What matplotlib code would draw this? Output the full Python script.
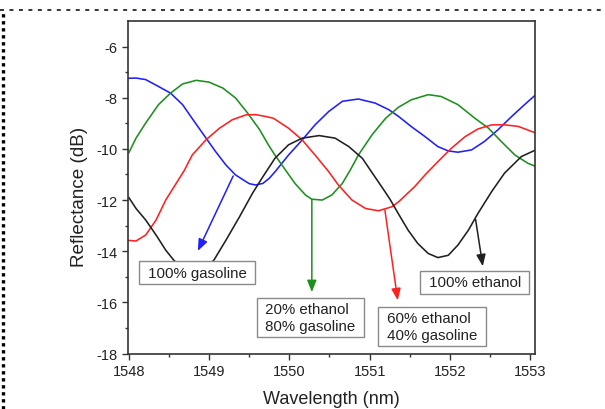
import matplotlib
matplotlib.use("Agg")
import matplotlib.pyplot as plt
from matplotlib.lines import Line2D

plt.rcParams['font.family'] = ['Liberation Sans', 'DejaVu Sans']
plt.rcParams['axes.unicode_minus'] = False

# ---- data ----
blue_x = [1548.00, 1548.09, 1548.21, 1548.37, 1548.52, 1548.67, 1548.80, 1548.96, 1549.08, 1549.21,
          1549.33, 1549.42, 1549.50, 1549.58, 1549.67, 1549.75, 1549.82, 1549.99, 1550.16, 1550.32,
          1550.49, 1550.66, 1550.86, 1551.07, 1551.24, 1551.36, 1551.52, 1551.69, 1551.85, 1551.98,
          1552.10, 1552.27, 1552.43, 1552.60, 1552.77, 1552.93, 1553.07]
blue_y = [-7.24, -7.23, -7.29, -7.56, -7.82, -8.27, -8.86, -9.57, -10.10, -10.63,
          -11.02, -11.20, -11.36, -11.41, -11.35, -11.15, -10.90, -10.24, -9.65, -9.06,
          -8.54, -8.14, -8.05, -8.21, -8.47, -8.73, -9.13, -9.52, -9.91, -10.08,
          -10.13, -10.04, -9.71, -9.25, -8.73, -8.27, -7.88]

green_x = [1548.00, 1548.09, 1548.21, 1548.37, 1548.52, 1548.67, 1548.84, 1549.00, 1549.17, 1549.33,
           1549.48, 1549.63, 1549.74, 1549.82, 1549.95, 1550.07, 1550.20, 1550.28, 1550.41, 1550.53,
           1550.66, 1550.76, 1550.86, 1551.03, 1551.20, 1551.36, 1551.52, 1551.73, 1551.89, 1552.10,
           1552.31, 1552.48, 1552.64, 1552.81, 1552.97, 1553.07]
green_y = [-10.15, -9.58, -8.99, -8.27, -7.82, -7.46, -7.32, -7.39, -7.62, -8.01,
           -8.60, -9.25, -9.85, -10.24, -10.82, -11.35, -11.80, -11.97, -12.00, -11.80,
           -11.35, -10.82, -10.24, -9.45, -8.80, -8.37, -8.08, -7.88, -7.95, -8.27,
           -8.80, -9.19, -9.71, -10.24, -10.56, -10.69]

red_x = [1548.00, 1548.09, 1548.21, 1548.34, 1548.46, 1548.59, 1548.69, 1548.79, 1548.96, 1549.13,
         1549.29, 1549.46, 1549.58, 1549.70, 1549.80, 1549.99, 1550.16, 1550.32, 1550.49, 1550.61,
         1550.78, 1550.95, 1551.11, 1551.28, 1551.36, 1551.56, 1551.69, 1551.85, 1552.02, 1552.19,
         1552.35, 1552.52, 1552.68, 1552.85, 1553.07]
red_y = [-13.58, -13.60, -13.37, -12.78, -12.00, -11.35, -10.85, -10.24, -9.65, -9.19,
         -8.86, -8.67, -8.66, -8.73, -8.80, -9.19, -9.65, -10.24, -10.89, -11.41,
         -12.00, -12.33, -12.42, -12.26, -12.07, -11.48, -11.02, -10.50, -9.97, -9.52,
         -9.22, -9.06, -9.06, -9.12, -9.38]

black_x = [1548.00, 1548.09, 1548.21, 1548.34, 1548.46, 1548.56, 1548.66, 1548.78, 1548.90, 1548.98,
           1549.06, 1549.21, 1549.38, 1549.54, 1549.67, 1549.82, 1549.99, 1550.16, 1550.37, 1550.57,
           1550.74, 1550.91, 1551.05, 1551.15, 1551.25, 1551.37, 1551.48, 1551.60, 1551.73, 1551.85,
           1551.98, 1552.10, 1552.23, 1552.35, 1552.52, 1552.68, 1552.89, 1553.07]
black_y = [-11.90, -12.33, -12.78, -13.37, -13.96, -14.35, -14.65, -14.82, -14.78, -14.60,
           -14.35, -13.57, -12.65, -11.74, -11.09, -10.37, -9.84, -9.58, -9.48, -9.58,
           -9.91, -10.37, -11.02, -11.48, -11.95, -12.60, -13.18, -13.70, -14.09, -14.25,
           -14.16, -13.76, -13.18, -12.52, -11.67, -10.95, -10.30, -10.04]

labels = ["100% gasoline", "20% ethanol\n80% gasoline", "60% ethanol\n40% gasoline", "100% ethanol"]
label_pos = [(1548.85, -14.84), (1550.26, -16.59), (1551.78, -16.94), (1552.31, -15.22)]
arrow_tail = [(1549.30, -11.06), (1550.28, -11.97), (1551.19, -12.39), (1552.32, -12.76)]
arrow_head = [(1548.86, -13.99), (1550.28, -15.60), (1551.35, -15.92), (1552.41, -14.59)]

x_ticks = [1548, 1549, 1550, 1551, 1552, 1553]
y_ticks = [-18, -16, -14, -12, -10, -8, -6]

# ---- figure ----
fig = plt.figure(figsize=(6.05, 4.10), dpi=100)
fig.patch.set_facecolor('white')
ax = fig.add_axes([128/605, 1-354.5/410, (535-128)/605, (354.5-22)/410])

c_blue, c_green, c_red, c_black = '#1f1fff', '#1e8f1e', '#ff2020', '#202020'
colors = [c_blue, c_green, c_red, c_black]
lw = 1.15
ax.plot(blue_x, blue_y, color=c_blue, lw=lw)
ax.plot(green_x, green_y, color=c_green, lw=lw)
ax.plot(red_x, red_y, color=c_red, lw=lw)
ax.plot(black_x, black_y, color=c_black, lw=lw)

for col, t, h in zip(colors, arrow_tail, arrow_head):
    ax.annotate('', xy=h, xytext=t,
                arrowprops=dict(arrowstyle='-|>,head_length=0.5,head_width=0.2', color=col,
                                lw=1.1, mutation_scale=14, shrinkA=0, shrinkB=0))

for txt, (x, y) in zip(labels, label_pos):
    padded = "\n".join(" " + line + " " for line in txt.split("\n"))
    ax.text(x, y, padded, ha='center', va='center', fontsize=10.8, color='#222222',
            multialignment='left', linespacing=1.25, zorder=5,
            bbox=dict(boxstyle='square,pad=0.3', fc='white', ec='#8a8a8a', lw=1.0))

ax.set_xlim(1547.99, 1553.06)
ax.set_ylim(-18, -5)
ax.set_xticks(x_ticks)
ax.set_yticks(y_ticks)
ax.set_xticks([1548.5, 1549.5, 1550.5, 1551.5, 1552.5], minor=True)
ax.set_yticks([-17, -15, -13, -11, -9, -7], minor=True)
ax.tick_params(which='major', direction='out', length=4, width=1.0, labelsize=10.5,
               color='#333333', labelcolor='#222222', pad=3.5)
ax.tick_params(which='minor', direction='out', length=2.5, width=1.0, color='#333333')
ax.tick_params(top=False, right=False)
for s in ax.spines.values():
    s.set_color('#333333')
    s.set_linewidth(1.2)

fig.text(331.5/605, 1-400/410, 'Wavelength (nm)', ha='center', va='center',
         fontsize=13, color='#222222')
fig.text(79/605, 1-197/410, 'Reflectance (dB)', ha='center', va='center',
         fontsize=13.6, color='#222222', rotation=90)

# dotted frame at top and left
fig.add_artist(Line2D([0, 1], [1-11/410, 1-11/410], transform=fig.transFigure,
                      color='black', lw=1.1, linestyle=(0, (2.6, 3.6))))
fig.add_artist(Line2D([3/605, 3/605], [0, 1-11/410], transform=fig.transFigure,
                      color='black', lw=2.4, linestyle=(0, (1, 1.1))))

fig.savefig('out.png', dpi=100, facecolor='white')
